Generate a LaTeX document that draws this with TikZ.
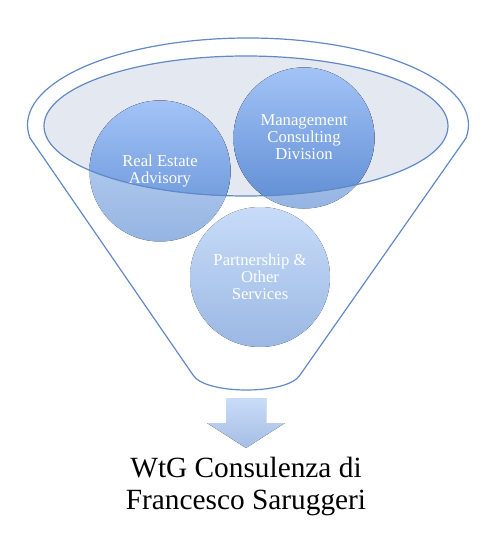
\documentclass[tikz,border=0pt]{standalone}
\usepackage{fontspec}
\setmainfont{Liberation Serif}
\definecolor{lineblue}{HTML}{6189C6}
\definecolor{ellfill}{HTML}{E4E9F1}
\definecolor{dktop}{HTML}{A3C3F7}
\definecolor{dkbot}{HTML}{5E8DD3}
\definecolor{lttop}{HTML}{C4D9F7}
\definecolor{ltbot}{HTML}{95B4E2}
\definecolor{ptop}{HTML}{C8DCF9}
\definecolor{pbot}{HTML}{9BB8E3}
\definecolor{atop}{HTML}{C9DCF8}
\definecolor{abot}{HTML}{A5BEE5}
\tikzset{
  funnelline/.style={draw=lineblue, line width=0.9pt, line join=round},
  circlabel/.style={text=white, align=center, font=\fontsize{12.5}{12.8}\selectfont, inner sep=0pt},
  maintext/.style={text=black, align=center, font=\fontsize{22}{24}\selectfont, inner sep=0pt}
}
\begin{document}
\begin{tikzpicture}[x=0.75pt,y=-0.75pt]
\useasboundingbox (0,0) rectangle (500,552);
% outer funnel
\draw[funnelline] (30,138) arc[start angle=171.4, end angle=368.6, x radius=220.5, y radius=87]
  -- (300,375) .. controls (288,395) and (205,395) .. (193,375) -- cycle;
% inner ellipse fill
\fill[ellfill] (246,126) ellipse[x radius=202, y radius=70];
% circles (light, outside part)
\fill[top color=lttop, bottom color=ltbot] (160,171) circle[radius=70.5];
\fill[top color=lttop, bottom color=ltbot] (304,138) circle[radius=70.5];
\fill[top color=ptop, bottom color=pbot] (260,277) circle[radius=70];
% circles (saturated, inside ellipse)
\begin{scope}
  \clip (246,126) ellipse[x radius=202, y radius=70];
  \fill[top color=dktop, bottom color=dkbot] (160,171) circle[radius=70.5];
  \fill[top color=dktop, bottom color=dkbot] (304,138) circle[radius=70.5];
\end{scope}
% inner ellipse border
\draw[draw=lineblue, line width=0.9pt] (246,126) ellipse[x radius=202, y radius=70];
% labels
\node[circlabel] (re) at (160,171) {Real Estate\\Advisory};
\node[circlabel] (mc) at (304,137) {Management\\Consulting\\Division};
\node[circlabel] (ps) at (260,277) {Partnership \&\\Other\\Services};
% arrow
\fill[top color=atop, bottom color=abot] (226,398) -- (266,398) -- (266,423) -- (285,423) -- (246,448) -- (207,423) -- (226,423) -- cycle;
% result text
\node[maintext] (res) at (246,486) {WtG Consulenza di\\Francesco Saruggeri};
\end{tikzpicture}
\end{document}
